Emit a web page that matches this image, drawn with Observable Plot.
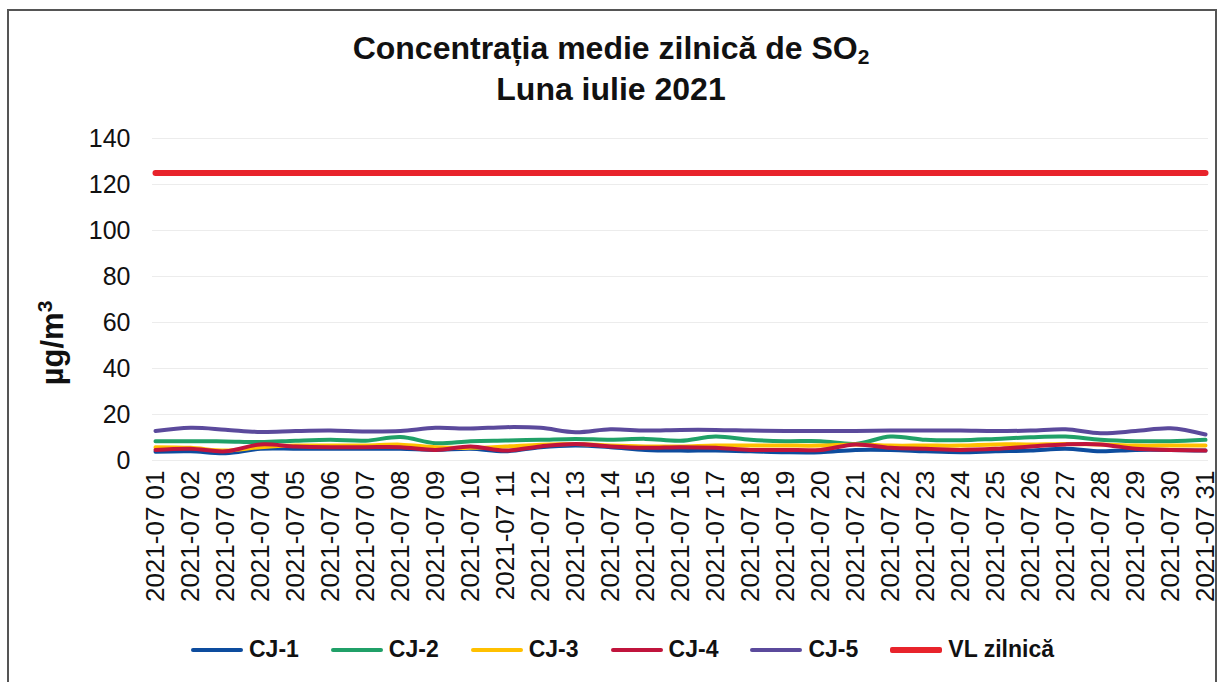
<!DOCTYPE html>
<html>
<head>
<meta charset="utf-8">
<script src="https://cdn.jsdelivr.net/npm/d3@7"></script>
<script src="https://cdn.jsdelivr.net/npm/@observablehq/plot@0.6"></script>
<style>
  html, body { margin: 0; padding: 0; background: #fff; }
  body { font-family: "Liberation Sans", Arial, sans-serif; color: #111; }
  #wrap { position: relative; width: 1222px; height: 682px; overflow: hidden; }
  #frame { position: absolute; left: 7px; top: 9px; width: 1210px; height: 700px; border: 2px solid #555; box-sizing: border-box; }
  #title { position: absolute; left: 0; top: 28px; width: 1222px; text-align: center; font-weight: bold; font-size: 32px; line-height: 41px; }
  #title sub { font-size: 21px; vertical-align: -5px; line-height: 0; }
  #chart { position: absolute; left: 0; top: 0; }
  #ylabel { position: absolute; left: 53px; top: 343px; transform: translate(-50%, -50%) rotate(-90deg); font-weight: bold; font-size: 31px; white-space: nowrap; }
  #ylabel sup { font-size: 21px; vertical-align: 11px; line-height: 0; }
  #legend { position: absolute; left: 191px; top: 636px; display: flex; align-items: center; font-weight: bold; font-size: 23px; }
  .item { display: flex; align-items: center; margin-right: 32px; }
  .sw { display: inline-block; width: 52px; margin-right: 6px; border-radius: 2px; }
</style>
</head>
<body>
<div id="wrap">
  <div id="frame"></div>
  <div id="chart"></div>
  <div id="title">Concentrația medie zilnică de SO<sub>2</sub><br>Luna iulie 2021</div>
  <div id="ylabel">µg/m<sup>3</sup></div>
  <div id="legend"></div>
</div>
<script>
const days = ["2021-07 01","2021-07 02","2021-07 03","2021-07 04","2021-07 05","2021-07 06","2021-07 07","2021-07 08","2021-07 09","2021-07 10","2021-07 11","2021-07 12","2021-07 13","2021-07 14","2021-07 15","2021-07 16","2021-07 17","2021-07 18","2021-07 19","2021-07 20","2021-07 21","2021-07 22","2021-07 23","2021-07 24","2021-07 25","2021-07 26","2021-07 27","2021-07 28","2021-07 29","2021-07 30","2021-07 31"];

const cj1 = [3.8,4.0,3.2,5.1,5.1,5.1,5.1,5.1,4.6,5.1,4.0,5.8,6.5,5.8,4.6,4.3,4.3,4.0,3.6,3.6,4.6,4.6,4.0,3.6,4.0,4.3,5.1,4.0,4.6,4.6,4.3];
const cj2 = [8.4,8.4,8.3,8.0,8.6,9.0,8.6,10.2,7.5,8.4,8.7,9.0,9.4,9.0,9.4,8.6,10.4,9.0,8.4,8.4,7.2,10.4,9.0,8.8,9.4,10.1,10.4,9.0,8.4,8.4,9.0];
const cj3 = [5.8,5.5,4.3,5.8,6.5,6.5,6.5,6.9,5.8,5.5,6.1,6.9,7.2,6.5,6.1,6.1,6.5,6.5,6.5,6.5,7.0,6.5,6.5,6.5,7.0,7.0,7.2,7.0,6.5,6.5,6.5];
const cj4 = [4.6,5.1,4.0,7.0,6.1,5.8,5.8,5.8,4.6,6.1,4.3,6.1,7.2,6.1,5.5,5.8,5.5,4.6,4.6,4.6,7.0,5.5,5.1,4.6,5.1,6.1,7.0,7.0,5.1,4.6,4.3];
const cj5 = [12.8,14.2,13.4,12.4,12.8,13.0,12.6,12.8,14.2,13.9,14.5,14.2,12.3,13.6,13.0,13.3,13.3,13.0,12.8,12.8,12.8,13.0,13.0,13.0,12.8,13.0,13.6,11.9,12.8,14.0,11.3];
const vl = [125,125,125,125,125,125,125,125,125,125,125,125,125,125,125,125,125,125,125,125,125,125,125,125,125,125,125,125,125,125,125];

const seriesNames = ["CJ-1","CJ-2","CJ-3","CJ-4","CJ-5","VL zilnică"];
const seriesValues = [cj1, cj2, cj3, cj4, cj5, vl];
const seriesColors = ["#0d4c9e","#20a068","#ffc000","#c0143c","#5b4a9c","#e8232b"];
const seriesWidths = [4, 4, 4, 4, 4, 6];
const yTicks = [0,20,40,60,80,100,120,140];

const rows = [];
seriesNames.forEach((name, i) => {
  seriesValues[i].forEach((v, j) => rows.push({series: name, day: days[j], value: v}));
});

const lineMarks = seriesNames.map((name, i) =>
  Plot.line(rows.filter(r => r.series === name), {
    x: "day", y: "value",
    stroke: seriesColors[i], strokeWidth: seriesWidths[i],
    curve: "catmull-rom", strokeLinejoin: "round", strokeLinecap: "round"
  })
);

const chart = Plot.plot({
  width: 1222,
  height: 620,
  marginTop: 138,
  marginBottom: 160,
  marginLeft: 152,
  marginRight: 14,
  style: { fontFamily: "'Liberation Sans', Arial, sans-serif", color: "#111", background: "transparent" },
  x: { type: "point", domain: days, padding: 0 },
  y: { domain: [0, 140] },
  marks: [
    Plot.gridY(yTicks, { stroke: "#ececec", strokeOpacity: 1, strokeWidth: 1 }),
    Plot.axisY(yTicks, { tickSize: 0, tickPadding: 22, fontSize: 25, label: null }),
    Plot.axisX({ tickRotate: -90, tickSize: 0, tickPadding: 10, fontSize: 26, label: null }),
    ...lineMarks
  ]
});
document.getElementById("chart").appendChild(chart);

const legend = document.getElementById("legend");
seriesNames.forEach((name, i) => {
  const item = document.createElement("div");
  item.className = "item";
  const sw = document.createElement("span");
  sw.className = "sw";
  sw.style.background = seriesColors[i];
  sw.style.height = (i === 5 ? 6 : 4) + "px";
  const t = document.createElement("span");
  t.textContent = name;
  item.appendChild(sw);
  item.appendChild(t);
  legend.appendChild(item);
});
</script>
</body>
</html>
